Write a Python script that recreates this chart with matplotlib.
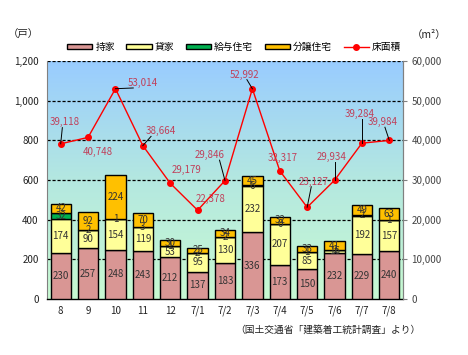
import matplotlib
matplotlib.use("Agg")
import matplotlib.pyplot as plt
import numpy as np
from matplotlib.patches import Rectangle
from matplotlib.lines import Line2D
from matplotlib.colors import LinearSegmentedColormap

plt.rcParams['font.family'] = ['Noto Sans CJK JP', 'DejaVu Sans']

categories = ['8', '9', '10', '11', '12', '7/1', '7/2', '7/3', '7/4', '7/5', '7/6', '7/7', '7/8']
owned = [230, 257, 248, 243, 212, 137, 183, 336, 173, 150, 232, 229, 240]
rental = [174, 90, 154, 119, 53, 95, 130, 232, 207, 85, 16, 192, 157]
issued = [32, 2, 1, 3, 1, 2, 2, 6, 0, 1, 1, 2, 1]
sale = [42, 92, 224, 70, 30, 25, 34, 45, 32, 33, 41, 49, 63]
floor_area = [39118, 40748, 53014, 38664, 29179, 22378, 29846, 52992, 32317, 23127, 29934, 39284, 39984]
series_names = ['持家', '貸家', '給与住宅', '分譲住宅', '床面積']

# label offsets (x, y in data coords) for floor area annotations, and whether a leader line is drawn
label_pos = [(0.16, 44500, True), (1.36, 37000, False), (3.0, 54500, True), (3.65, 42300, True),
             (4.58, 32500, False), (5.47, 25300, False), (5.45, 36300, True), (6.7, 56600, True),
             (8.12, 35500, False), (9.25, 29600, True), (9.9, 35900, True), (10.9, 46600, True),
             (11.74, 44600, True)]

colors = ['#D99694', '#FFFF99', '#00B050', '#FFC000']
fig = plt.figure(figsize=(4.68, 3.55), dpi=100)
ax = fig.add_axes([47/468, 56/355, 356/468, 238/355])

x = np.arange(len(categories))
# gradient background
cmap = LinearSegmentedColormap.from_list('bg', ['#C8FAD2', '#B4E8E0', '#99CCFF'])
grad = np.linspace(0, 1, 256).reshape(-1, 1)
ax.imshow(grad, aspect='auto', cmap=cmap, origin='lower',
          extent=[-0.5, 12.5, 0, 1200], zorder=0)

bottom = np.zeros(len(categories))
for vals, c in zip([owned, rental, issued, sale], colors):
    vals = np.array(vals, dtype=float)
    ax.bar(x, vals, 0.74, bottom=bottom, color=c, edgecolor='black', linewidth=1.0, zorder=3)
    for xi, b, v in zip(x, bottom, vals):
        ax.text(xi, b + v / 2, f'{int(v)}', ha='center', va='center', fontsize=7,
                color='#333333', zorder=5)
    bottom += vals

ax.set_xlim(-0.5, 12.5)
ax.set_ylim(0, 1200)
ax.set_yticks(np.arange(0, 1201, 200))
ax.set_yticklabels([f'{v:,}' for v in range(0, 1201, 200)], fontsize=7, color='#222222')
for yv in range(200, 1201, 200):
    ax.axhline(yv, color='black', linestyle=(0, (2.5, 1.5)), linewidth=0.9, zorder=1)
ax.set_xticks(x)
ax.set_xticklabels(categories, fontsize=7, color='#222222')
ax.tick_params(axis='x', length=0, pad=5)
ax.tick_params(axis='y', length=0, pad=6)
ax.spines['top'].set_visible(False)
ax.spines['left'].set_color('#808080')
ax.spines['right'].set_color('#808080')
ax.spines['bottom'].set_color('black')
ax.spines['bottom'].set_linewidth(1.0)

ax2 = ax.twinx()
ax2.plot(x, floor_area, color='#FF0000', linewidth=1.0, marker='o', markersize=4,
         markerfacecolor='#FF0000', markeredgecolor='#FF0000', zorder=6)
ax2.set_ylim(0, 60000)
ax2.set_yticks(np.arange(0, 60001, 10000))
ax2.set_yticklabels([f'{v:,}' for v in range(0, 60001, 10000)], fontsize=7, color='#444444')
ax2.tick_params(axis='y', length=3, color='#808080', pad=3)
ax2.spines['top'].set_visible(False)
ax2.spines['right'].set_color('#808080')
ax2.spines['left'].set_visible(False)
ax2.spines['bottom'].set_visible(False)

for xi, v, (lx, ly, lead) in zip(x, floor_area, label_pos):
    ax2.text(lx, ly, f'{v:,}', ha='center', va='center', fontsize=7, color='#C0405A', zorder=7)
    if lead:
        # leader line from point toward label
        dy = ly - v
        ey = ly - np.sign(dy) * 1300
        ex = lx - 0.35 * np.sign(lx - xi) if abs(lx - xi) > 0.5 else lx - 0.1 * np.sign(lx - xi)
        ax2.plot([xi, ex], [v, ey], color='black', linewidth=0.7, zorder=6)

handles = [Rectangle((0, 0), 1, 1, facecolor=c, edgecolor='black', linewidth=1.0) for c in colors]
handles.append(Line2D([], [], color='#FF0000', marker='o', markersize=4, linewidth=1.0))
fig.legend(handles, series_names, loc='center', bbox_to_anchor=(0.5, 1 - 47/355), ncol=5,
           frameon=False, fontsize=7, handlelength=2.6, handleheight=0.45, columnspacing=1.2,
           handletextpad=0.3)

fig.text(8/468, 1 - 35/355, '（戸）', fontsize=7.5, ha='left', va='center', color='#222222')
fig.text(412/468, 1 - 35/355, '（m²）', fontsize=7.5, ha='left', va='center', color='#222222')
fig.text(420/468, 1 - 330/355, '（国土交通省「建築着工統計調査」より）', fontsize=7, ha='right',
         va='center', color='#222222')

fig.savefig('out.png', dpi=100)
